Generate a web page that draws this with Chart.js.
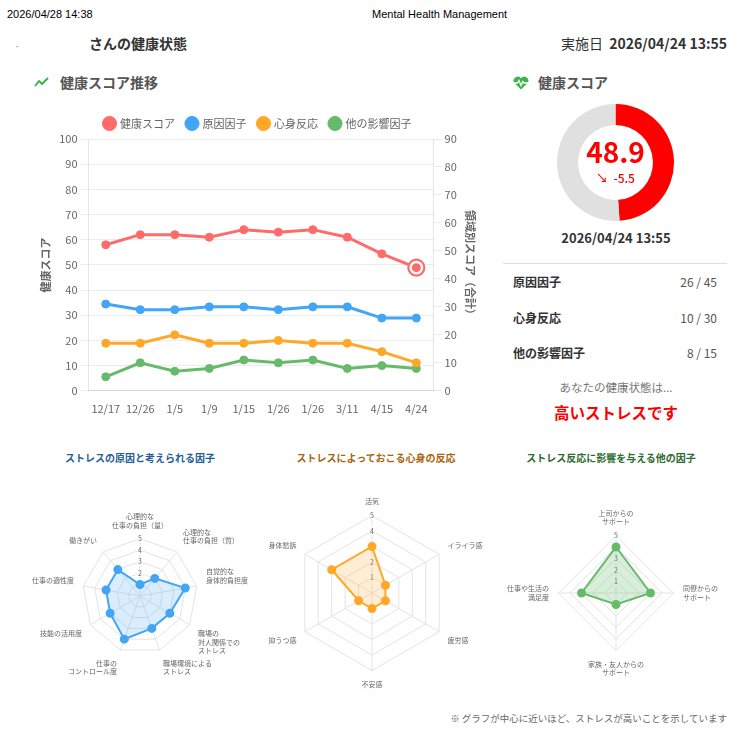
<!DOCTYPE html>
<html lang="ja">
<head>
<meta charset="utf-8">
<title>Mental Health Management</title>
<script src="https://cdn.jsdelivr.net/npm/chart.js@4.4.0/dist/chart.umd.min.js"></script>
<style>
  body { margin: 0; width: 754px; height: 742px; background: #fff; position: relative; overflow: hidden;
         font-family: 'Noto Sans CJK JP', 'Noto Sans', sans-serif; color: #333; }
  .t { position: absolute; line-height: 1; white-space: nowrap; }
  .box { position: absolute; }
  .print { font-family: 'Liberation Sans', Arial, sans-serif; font-size: 11px; color: #000; }
  .sec { font-size: 14px; font-weight: bold; color: #555; }
  .row { font-size: 12px; font-weight: bold; color: #333; }
  .val { font-size: 12px; color: #555; text-align: right; }
  .rtitle { font-size: 10px; font-weight: bold; text-align: center; width: 240px; }
</style>
</head>
<body>
<div class="t print" style="left:7px; top:9px;">2026/04/28 14:38</div>
<div class="t print" style="left:372px; top:9px;">Mental Health Management</div>

<div class="t" style="left:16px; top:40px; font-size:8px; color:#555;">.</div>
<div class="t" style="left:89px; top:36px; font-size:14px; font-weight:bold; color:#333;">さんの健康状態</div>
<div class="t" style="right:27px; top:36px; font-size:14px; color:#333;">実施日&nbsp;&nbsp;<span style="font-weight:600;">2026/04/24 13:55</span></div>

<svg class="box" style="left:34px; top:77px;" width="15" height="10" viewBox="0 0 15 10">
  <polyline points="1,9 5,4 8,7 14,1" fill="none" stroke="#3cb44b" stroke-width="2" stroke-linejoin="round"/>
</svg>
<div class="t sec" style="left:60px; top:75px;">健康スコア推移</div>

<svg class="box" style="left:513px; top:76px;" width="16" height="14" viewBox="0 0 16 14">
  <path d="M8 13.5 L1.6 7.2 A3.8 3.8 0 0 1 8 2.2 A3.8 3.8 0 0 1 14.4 7.2 Z" fill="#3cb44b"/>
  <polyline points="0.5,7 4.5,7 6,4.5 8,9.5 9.8,5.5 11,7 15.5,7" fill="none" stroke="#fff" stroke-width="1.3"/>
</svg>
<div class="t sec" style="left:538px; top:75px;">健康スコア</div>

<div class="box" style="left:35px; top:106px; width:446px; height:312px;"><canvas id="trend"></canvas></div>

<div class="box" style="left:557px; top:104px; width:117px; height:117px;"><canvas id="gauge"></canvas></div>
<div class="t" id="scoreText" style="left:557px; width:117px; text-align:center; top:137px; font-size:28px; font-weight:bold; color:#f00;"></div>
<div class="t" id="deltaText" style="left:557px; width:117px; text-align:center; top:172px; font-size:12px; font-weight:500; color:#f00;"></div>
<div class="t" id="dateText" style="left:516px; width:200px; text-align:center; top:231px; font-size:13px; font-weight:600; color:#333;"></div>
<div class="box" style="left:503px; top:263px; width:224px; height:1px; background:#ddd;"></div>
<div id="rows"></div>
<div class="t" style="left:516px; width:200px; text-align:center; top:382px; font-size:11.5px; color:#777;">あなたの健康状態は...</div>
<div class="t" style="left:516px; width:200px; text-align:center; top:405px; font-size:15.5px; font-weight:bold; color:#f00;">高いストレスです</div>

<div class="t rtitle" style="left:20px; top:453px; color:#1f5f99;">ストレスの原因と考えられる因子</div>
<div class="t rtitle" style="left:256px; top:453px; color:#a8650c;">ストレスによっておこる心身の反応</div>
<div class="t rtitle" style="left:491px; top:453px; color:#2e6b30;">ストレス反応に影響を与える他の因子</div>

<div class="box" style="left:25px; top:494px; width:230px; height:200px;"><canvas id="radarCause"></canvas></div>
<div class="box" style="left:262px; top:494px; width:230px; height:200px;"><canvas id="radarReaction"></canvas></div>
<div class="box" style="left:498px; top:494px; width:230px; height:200px;"><canvas id="radarOther"></canvas></div>

<div class="t" style="right:27px; top:714px; font-size:9.5px; color:#666;">※ グラフが中心に近いほど、ストレスが高いことを示しています</div>

<script>
// trend data
const dates = ['12/17', '12/26', '1/5', '1/9', '1/15', '1/26', '1/26', '3/11', '4/15', '4/24'];
const healthScore = [58, 62, 62, 61, 64, 63, 64, 61, 54.4, 48.9];
const causeScore = [31, 29, 29, 30, 30, 29, 30, 30, 26, 26];
const reactionScore = [17, 17, 20, 17, 17, 18, 17, 17, 14, 10];
const otherScore = [5, 10, 7, 8, 11, 10, 11, 8, 9, 8];

// current score
const currentScore = 48.9;
const scoreMax = 100;
const scoreDelta = -5.5;
const examDate = '2026/04/24 13:55';
const areaNames = ['原因因子', '心身反応', '他の影響因子'];
const areaValues = [26, 10, 8];
const areaMax = [45, 30, 15];

// radar data
const causeLabels = [['心理的な', '仕事の負担（量）'], ['心理的な', '仕事の負担（質）'], ['自覚的な', '身体的負担度'],
  ['職場の', '対人関係での', 'ストレス'], ['職場環境による', 'ストレス'], ['仕事の', 'コントロール度'],
  '技能の活用度', '仕事の適性度', '働きがい'];
const causeValues = [1, 2, 4, 3, 3, 4, 3, 3, 3];
const reactionLabels = ['活気', 'イライラ感', '疲労感', '不安感', '抑うつ感', '身体愁訴'];
const reactionValues = [3, 1, 1, 1, 1, 3];
const otherLabels = [['上司からの', 'サポート'], ['同僚からの', 'サポート'], ['家族・友人からの', 'サポート'], ['仕事や生活の', '満足度']];
const otherValues = [4, 3, 1, 3];

const RED = '#ff6b6b', BLUE = '#42a5f5', ORANGE = '#ffa726', GREEN = '#66bb6a';

Chart.defaults.font.family = "'Noto Sans CJK JP', 'Noto Sans', sans-serif";
Chart.defaults.color = '#666';
Chart.defaults.animation = false;

function lineSet(label, data, color, axis) {
  return {
    label: label, data: data, yAxisID: axis,
    borderColor: color, backgroundColor: color,
    pointBackgroundColor: color, pointBorderColor: color,
    borderWidth: 3, pointRadius: 4, pointBorderWidth: 1, tension: 0
  };
}

// ring around the latest health score point
const lastPointRing = {
  id: 'lastPointRing',
  afterDatasetsDraw(chart) {
    const meta = chart.getDatasetMeta(0);
    const pt = meta.data[meta.data.length - 1];
    if (!pt) return;
    const ctx = chart.ctx;
    ctx.save();
    ctx.fillStyle = '#fff';
    ctx.beginPath(); ctx.arc(pt.x, pt.y, 8, 0, Math.PI * 2); ctx.fill();
    ctx.strokeStyle = RED; ctx.lineWidth = 2.2;
    ctx.beginPath(); ctx.arc(pt.x, pt.y, 8, 0, Math.PI * 2); ctx.stroke();
    ctx.fillStyle = RED;
    ctx.beginPath(); ctx.arc(pt.x, pt.y, 4.5, 0, Math.PI * 2); ctx.fill();
    ctx.restore();
  }
};

new Chart(document.getElementById('trend'), {
  type: 'line',
  data: {
    labels: dates,
    datasets: [
      lineSet('健康スコア', healthScore, RED, 'y'),
      lineSet('原因因子', causeScore, BLUE, 'y1'),
      lineSet('心身反応', reactionScore, ORANGE, 'y1'),
      lineSet('他の影響因子', otherScore, GREEN, 'y1')
    ]
  },
  options: {
    responsive: true, maintainAspectRatio: false,
    layout: { padding: 0 },
    plugins: {
      legend: { position: 'top', labels: { usePointStyle: true, pointStyle: 'circle', boxWidth: 10, boxHeight: 10, font: { size: 11 }, color: '#666', padding: 12 } },
      tooltip: { enabled: false }
    },
    scales: {
      x: { offset: true, grid: { display: false }, ticks: { font: { size: 11 }, color: '#666', maxRotation: 0, minRotation: 0, autoSkip: false } },
      y: {
        position: 'left', min: 0, max: 100,
        ticks: { stepSize: 10, font: { size: 11 }, color: '#666' },
        grid: { color: '#ececec' },
        title: { display: true, text: '健康スコア', font: { size: 11, weight: 'bold' }, color: '#666' }
      },
      y1: {
        position: 'right', min: 0, max: 90,
        ticks: { stepSize: 10, font: { size: 11 }, color: '#666' },
        grid: { drawOnChartArea: false, color: '#ececec' },
        title: { display: true, text: '領域別スコア（合計）', font: { size: 11, weight: 'bold' }, color: '#666' }
      }
    }
  },
  plugins: [lastPointRing]
});

new Chart(document.getElementById('gauge'), {
  type: 'doughnut',
  data: {
    datasets: [{ data: [currentScore, scoreMax - currentScore], backgroundColor: ['#ff0000', '#e0e0e0'], borderWidth: 0 }]
  },
  options: {
    responsive: true, maintainAspectRatio: false, cutout: '64%',
    plugins: { legend: { display: false }, tooltip: { enabled: false } }
  }
});

document.getElementById('scoreText').textContent = currentScore.toFixed(1);
document.getElementById('deltaText').textContent = (scoreDelta < 0 ? '↘\u00a0\u00a0' : '↗\u00a0\u00a0') + scoreDelta.toFixed(1);
document.getElementById('dateText').textContent = examDate;

const rowsEl = document.getElementById('rows');
const rowY = [276, 312, 347];
areaNames.forEach((name, i) => {
  rowsEl.insertAdjacentHTML('beforeend',
    '<div class="t row" style="left:513px; top:' + rowY[i] + 'px;">' + name + '</div>' +
    '<div class="t val" style="right:37px; top:' + rowY[i] + 'px;">' + areaValues[i] + ' / ' + areaMax[i] + '</div>');
});

function radar(id, labels, values, color, fill, pad) {
  new Chart(document.getElementById(id), {
    type: 'radar',
    data: {
      labels: labels,
      datasets: [{
        data: values, borderColor: color, backgroundColor: fill, fill: true,
        pointBackgroundColor: color, pointBorderColor: color, pointRadius: 3.5, borderWidth: 2
      }]
    },
    options: {
      responsive: true, maintainAspectRatio: false,
      layout: { padding: pad },
      plugins: { legend: { display: false }, tooltip: { enabled: false } },
      scales: {
        r: {
          min: 0, max: 5,
          ticks: { stepSize: 1, font: { size: 7 }, color: '#666', backdropPadding: 1 },
          pointLabels: { font: { size: 7 }, color: '#666' },
          grid: { color: '#e3e3e3' },
          angleLines: { color: '#e3e3e3' }
        }
      }
    }
  });
}

radar('radarCause', causeLabels, causeValues, BLUE, 'rgba(66,165,245,0.2)', 7);
radar('radarReaction', reactionLabels, reactionValues, ORANGE, 'rgba(255,167,38,0.2)', 4);
radar('radarOther', otherLabels, otherValues, GREEN, 'rgba(102,187,106,0.25)', 6);
</script>
</body>
</html>
